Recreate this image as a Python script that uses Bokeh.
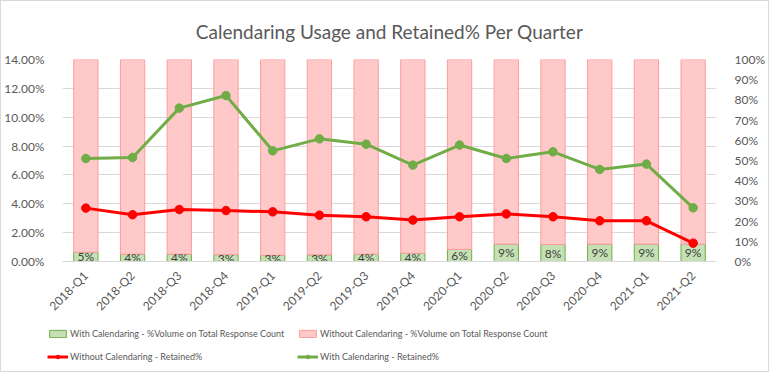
from bokeh.plotting import figure
from bokeh.models import (Range1d, LinearAxis, FixedTicker, PrintfTickFormatter,
                          Legend, LegendItem, ColumnDataSource)
from bokeh.layouts import column, row
from bokeh.core.properties import value
from bokeh.embed import file_html
from bokeh.resources import INLINE
import math

quarters = ["2018-Q1", "2018-Q2", "2018-Q3", "2018-Q4", "2019-Q1", "2019-Q2", "2019-Q3",
            "2019-Q4", "2020-Q1", "2020-Q2", "2020-Q3", "2020-Q4", "2021-Q1", "2021-Q2"]
with_vol = [4.6, 3.6, 3.6, 3.4, 3.1, 3.3, 3.6, 4.1, 6.0, 8.6, 8.4, 8.6, 8.6, 8.6]
without_vol = [95.4, 96.4, 96.4, 96.6, 96.9, 96.7, 96.4, 95.9, 94.0, 91.4, 91.6, 91.4, 91.4, 91.4]
without_ret = [3.70, 3.24, 3.60, 3.53, 3.44, 3.21, 3.10, 2.87, 3.10, 3.30, 3.10, 2.82, 2.82, 1.27]
with_ret = [7.14, 7.21, 10.63, 11.50, 7.67, 8.50, 8.13, 6.68, 8.07, 7.14, 7.60, 6.38, 6.75, 3.72]
left_ticks = [0, 2, 4, 6, 8, 10, 12, 14]
right_ticks = [0, 10, 20, 30, 40, 50, 60, 70, 80, 90, 100]
legend_labels = ["With Calendaring - %Volume on Total Response Count",
                 "Without Calendaring - %Volume on Total Response Count",
                 "Without Calendaring - Retained%",
                 "With Calendaring - Retained%"]

FONT = "Lato"
GREY = "#595959"
GREEN_FILL, GREEN_LINE = "#C5E0B4", "#70AD47"
PINK_FILL, PINK_LINE = "#FFC9C9", "#FF9B9B"
RED = "#FF0000"
LW, MS = 3, 8.5

src = ColumnDataSource(dict(
    q=quarters, w=with_vol, wo=without_vol,
    wmid=[v / 2 for v in with_vol],
    lbl=["%d%%" % round(v) for v in with_vol],
))

p = figure(x_range=quarters, y_range=Range1d(0, 14), width=767, height=320,
           output_backend="svg", toolbar_location=None,
           title="Calendaring Usage and Retained% Per Quarter",
           min_border_left=60, min_border_right=52, min_border_top=58, min_border_bottom=60)
p.outline_line_color = None
p.extra_y_ranges = {"pct": Range1d(0, 100)}

p.title.align = "center"
p.title.text_font = FONT
p.title.text_font_size = "19px"
p.title.text_font_style = "normal"
p.title.text_color = GREY
p.title.standoff = 33

# bars (right axis)
bars = p.vbar_stack(["w", "wo"], x="q", width=0.52, source=src, y_range_name="pct",
                    fill_color=[GREEN_FILL, PINK_FILL], line_color=[GREEN_LINE, PINK_LINE],
                    line_width=1)
p.text(x="q", y="wmid", text="lbl", source=src, y_range_name="pct",
       text_align="center", text_baseline="middle", text_font=value(FONT),
       text_font_size="12px", text_color="#404040")

# lines (left axis)
p.line(quarters, without_ret, line_color=RED, line_width=LW)
p.scatter(quarters, without_ret, size=MS, fill_color=RED, line_color=RED)
p.line(quarters, with_ret, line_color=GREEN_LINE, line_width=LW)
p.scatter(quarters, with_ret, size=MS, fill_color=GREEN_LINE, line_color=GREEN_LINE)

# axes
la = p.yaxis[0]
la.ticker = FixedTicker(ticks=left_ticks)
la.formatter = PrintfTickFormatter(format="%.2f%%")
ra = LinearAxis(y_range_name="pct", ticker=FixedTicker(ticks=right_ticks),
                formatter=PrintfTickFormatter(format="%d%%"))
p.add_layout(ra, "right")
for ax in (la, ra):
    ax.axis_line_color = None
    ax.major_tick_line_color = None
    ax.minor_tick_line_color = None
    ax.major_label_text_font = FONT
    ax.major_label_text_font_size = "12px"
    ax.major_label_text_color = GREY
    ax.major_label_standoff = 12
xa = p.xaxis[0]
xa.axis_line_color = "#D9D9D9"
xa.major_tick_line_color = None
xa.major_label_orientation = math.pi / 4
xa.major_label_text_font = FONT
xa.major_label_text_font_size = "12px"
xa.major_label_text_color = GREY
xa.major_label_standoff = 6

p.xgrid.grid_line_color = None
p.ygrid.grid_line_color = "#D9D9D9"
p.ygrid.ticker = FixedTicker(ticks=left_ticks)

# legend strip: same series drawn out of view so that only the legend shows
pl = figure(width=767, height=50, output_backend="svg", toolbar_location=None,
            x_range=quarters, y_range=Range1d(200, 300),
            x_axis_type=None, y_axis_type=None, min_border=0)
pl.outline_line_color = None
pl.grid.visible = False
lbars = pl.vbar_stack(["w", "wo"], x="q", width=0.52, source=src,
                      fill_color=[GREEN_FILL, PINK_FILL], line_color=[GREEN_LINE, PINK_LINE])
r_ln = pl.line(quarters, without_ret, line_color=RED, line_width=LW)
r_pt = pl.scatter(quarters, without_ret, size=MS, fill_color=RED, line_color=RED)
g_ln = pl.line(quarters, with_ret, line_color=GREEN_LINE, line_width=LW)
g_pt = pl.scatter(quarters, with_ret, size=MS, fill_color=GREEN_LINE, line_color=GREEN_LINE)

def mk_legend(items, x, y):
    lg = Legend(items=items, location=(x, y), orientation="vertical",
                label_text_font=FONT, label_text_font_size="9px", label_text_color=GREY,
                glyph_width=21, glyph_height=9, label_height=14, label_standoff=2,
                spacing=9, padding=0, margin=0, border_line_alpha=0,
                background_fill_alpha=0)
    pl.add_layout(lg, "center")

mk_legend([LegendItem(label=legend_labels[0], renderers=[lbars[0]]),
           LegendItem(label=legend_labels[2], renderers=[r_ln, r_pt])], 46, 8)
mk_legend([LegendItem(label=legend_labels[1], renderers=[lbars[1]]),
           LegendItem(label=legend_labels[3], renderers=[g_ln, g_pt])], 296, 8)

layout = column(p, row(pl), spacing=0)
layout.styles = {"border": "1px solid #D9D9D9"}

open("out.html", "w").write(file_html(layout, INLINE))
